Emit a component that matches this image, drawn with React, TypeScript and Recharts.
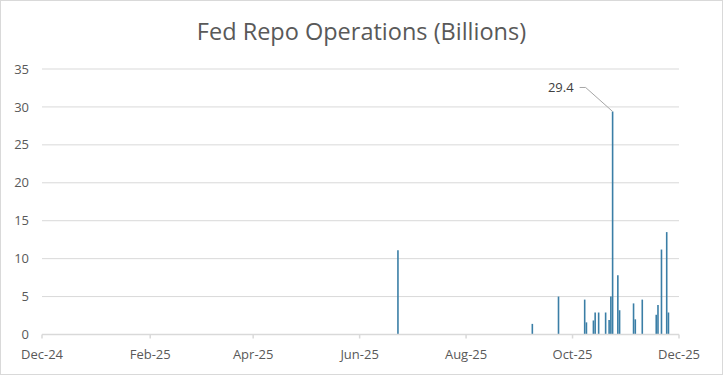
import React from "react";
import {
  BarChart,
  Bar,
  XAxis,
  YAxis,
  CartesianGrid,
  LabelList,
} from "recharts";

// operation dates and amounts (billions)
const repoDates = [
  "2025-06-30", "2025-09-15", "2025-09-30", "2025-10-15", "2025-10-16",
  "2025-10-20", "2025-10-21", "2025-10-23", "2025-10-27", "2025-10-29",
  "2025-10-30", "2025-10-31", "2025-11-03", "2025-11-04", "2025-11-12",
  "2025-11-13", "2025-11-17", "2025-11-25", "2025-11-26", "2025-11-28",
  "2025-12-01", "2025-12-02",
];
const repoBillions = [
  11.1, 1.4, 5.0, 4.6, 1.6,
  1.85, 2.9, 2.9, 2.9, 1.9,
  5.0, 29.4, 7.8, 3.2, 4.1,
  2.0, 4.6, 2.6, 3.9, 11.2,
  13.5, 2.9,
];

const xTickDates = [
  "2024-12-08", "2025-02-08", "2025-04-08", "2025-06-08",
  "2025-08-08", "2025-10-08", "2025-12-08",
];
const yTicks = [0, 5, 10, 15, 20, 25, 30, 35];

const MONTHS = ["Jan", "Feb", "Mar", "Apr", "May", "Jun", "Jul", "Aug", "Sep", "Oct", "Nov", "Dec"];

const toTime = (s: string) => {
  const [y, m, d] = s.split("-").map(Number);
  return Date.UTC(y, m - 1, d);
};

const fmtMonth = (t: number) => {
  const d = new Date(t);
  return `${MONTHS[d.getUTCMonth()]}-${String(d.getUTCFullYear()).slice(2)}`;
};

const data = repoDates.map((d, i) => ({ t: toTime(d), value: repoBillions[i] }));
const xTicks = xTickDates.map(toTime);
const peak = Math.max(...repoBillions);

const FONT = "'Open Sans', sans-serif";

function PeakLabel(props: any) {
  const { x, y, width, value } = props;
  if (value !== peak) return null;
  const cx = x + width / 2;
  return (
    <g>
      <path
        d={`M${cx - 33},${y - 24} L${cx - 27},${y - 24} L${cx},${y}`}
        stroke="#a6a6a6"
        strokeWidth={1}
        fill="none"
      />
      <text
        x={cx - 39}
        y={y - 24}
        textAnchor="end"
        dominantBaseline="central"
        fontSize={13}
        fontFamily={FONT}
        fill="#404040"
      >
        {value}
      </text>
    </g>
  );
}

export default function App() {
  return (
    <div
      style={{
        position: "absolute",
        left: 0,
        top: 0,
        width: 723,
        height: 375,
        background: "#fff",
        border: "1px solid #d9d9d9",
        boxSizing: "border-box",
        fontFamily: FONT,
      }}
    >
      <div
        style={{
          position: "absolute",
          top: 14,
          left: 0,
          width: "100%",
          textAlign: "center",
          fontSize: 23.5,
          color: "#595959",
        }}
      >
        Fed Repo Operations (Billions)
      </div>
      <div style={{ position: "absolute", left: -1, top: -1 }}>
        <BarChart
          width={723}
          height={375}
          data={data}
          margin={{ top: 69, right: 44, left: 0, bottom: 0 }}
        >
          <CartesianGrid vertical={false} stroke="#d9d9d9" />
          <XAxis
            dataKey="t"
            type="number"
            domain={[xTicks[0], xTicks[xTicks.length - 1]]}
            ticks={xTicks}
            tickFormatter={fmtMonth}
            height={40.5}
            stroke="#d9d9d9"
            strokeWidth={1.5}
            tickSize={4}
            tickMargin={11}
            tick={{ fill: "#595959", fontSize: 13, fontFamily: FONT }}
            interval={0}
          />
          <YAxis
            domain={[0, 35]}
            ticks={yTicks}
            width={42}
            axisLine={false}
            tickLine={false}
            tickSize={0}
            tickMargin={13}
            tick={{ fill: "#595959", fontSize: 13, fontFamily: FONT }}
          />
          <Bar dataKey="value" fill="#3a7ea6" barSize={1.6} isAnimationActive={false}>
            <LabelList dataKey="value" content={<PeakLabel />} />
          </Bar>
        </BarChart>
      </div>
    </div>
  );
}
